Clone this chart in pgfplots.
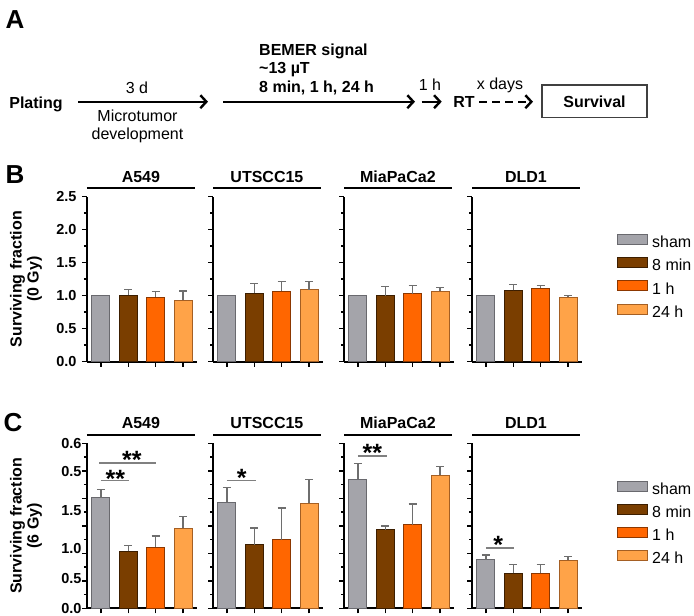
\documentclass[border=0pt]{standalone}
\usepackage{pgfplots}
\pgfplotsset{compat=1.18}
\usepackage{fontspec}
\setmainfont{Liberation Sans}
\usetikzlibrary{arrows.meta}

\definecolor{cSham}{RGB}{164,164,170}
\definecolor{eSham}{RGB}{105,105,110}
\definecolor{cMin}{RGB}{122,62,0}
\definecolor{eMin}{RGB}{60,30,0}
\definecolor{cOne}{RGB}{255,102,0}
\definecolor{eOne}{RGB}{140,55,0}
\definecolor{cDay}{RGB}{255,163,72}
\definecolor{eDay}{RGB}{165,95,35}
\definecolor{errgray}{RGB}{110,110,110}
\definecolor{siggray}{RGB}{128,128,128}

\tikzset{sig/.style={font=\bfseries\fontsize{25}{25}\selectfont, anchor=base, inner sep=0pt, yshift=-13pt}}

\pgfplotsset{
 panel/.style={scale only axis, width=110pt, height=165pt, anchor=south west,
   axis x line*=bottom, axis y line*=left,
   axis line style={line width=1.8pt},
   xmin=0.49, xmax=4.51, xtick={1,2,3,4}, xticklabels={},
   tick style={black, line width=1.5pt},
   tick align=outside, major tick length=5pt, minor tick length=3pt,
   clip=false, ymin=0,
   /pgf/number format/assume math mode=true,
   yticklabel style={font=\bfseries\fontsize{14.5}{14.5}\selectfont, xshift=-2pt},
 },
 panelB/.style={panel, ymax=2.5, ytick={0,0.5,1,1.5,2,2.5},
   yticklabels={0.0,0.5,1.0,1.5,2.0,2.5}, minor y tick num=1},
 panelC/.style={panel, ymax=0.6, ytick={0,0.1,0.2,0.3,0.4,0.5,0.6},
   yticklabels={,,,,,,}, minor y tick num=1,
   extra y ticks={0,0.107,0.219,0.355,0.496,0.6},
   extra y tick labels={0.0,0.5,1.0,1.5,0.5,0.6},
   extra y tick style={major tick length=0pt}},
 bstyle/.style={ybar, bar width=18pt, bar shift=0pt, line width=1pt},
 eb/.style={error bars/.cd, y dir=plus, y explicit,
   error bar style={line width=1.2pt, errgray},
   error mark options={rotate=90, line width=1.2pt, errgray, mark size=4pt}},
 pSham/.style={fill=cSham, draw=eSham},
 pMin/.style={fill=cMin, draw=eMin},
 pOne/.style={fill=cOne, draw=eOne},
 pDay/.style={fill=cDay, draw=eDay},
 leg/.style={legend style={at={(axis description cs:1.318,0.773)}, anchor=north west,
   draw=none, fill=none, inner sep=0pt, row sep=7pt, column sep=3pt,
   font=\fontsize{16}{16}\selectfont, cells={anchor=west},
   nodes={inner sep=1pt}},
   legend image code/.code={\draw[##1, line width=1pt] (0pt,-2pt) rectangle (30pt,8pt);}},
}

\newcommand{\ebar}[4]{\addplot[bstyle,#1,eb] coordinates {(#2,#3) +- (0,#4)};}
\newcommand{\head}[1]{%
  \draw[line width=1.6pt] (axis description cs:0,1.051) -- (axis description cs:0.985,1.051);
  \node[anchor=base, font=\bfseries\fontsize{16}{16}\selectfont, inner sep=0pt] at (axis description cs:0.49,1.087) {#1};}

\begin{document}
\begin{tikzpicture}
\useasboundingbox (0,0) rectangle (694pt,-616pt);

% ---------- Panel A ----------
\node[font=\bfseries\fontsize{26}{26}\selectfont] at (15pt,-20pt) {A};
\begin{scope}[line width=2.4pt, >={Straight Barb[length=6pt,width=13pt]}]
\node[anchor=base, inner sep=0pt, font=\bfseries\fontsize{16}{16}\selectfont] at (36pt,-108.3pt) {Plating};
\draw[->] (78pt,-101.7pt) -- (208pt,-101.7pt);
\node[anchor=base, inner sep=0pt, font=\fontsize{16}{16}\selectfont] at (137pt,-93.3pt) {3 d};
\node[anchor=base, inner sep=0pt, font=\fontsize{16}{16}\selectfont] at (137.5pt,-121.7pt) {Microtumor};
\node[anchor=base, inner sep=0pt, font=\fontsize{16}{16}\selectfont] at (137.5pt,-139.3pt) {development};
\draw[->] (223pt,-101.7pt) -- (415pt,-101.7pt);
\node[anchor=base west, inner sep=0pt, font=\bfseries\fontsize{16}{16}\selectfont] at (258pt,-55pt) {BEMER signal};
\node[anchor=base west, inner sep=0pt, font=\bfseries\fontsize{16}{16}\selectfont] at (258pt,-73.3pt) {\textasciitilde13 µT};
\node[anchor=base west, inner sep=0pt, font=\bfseries\fontsize{16}{16}\selectfont] at (258pt,-92.7pt) {8 min, 1 h, 24 h};
\draw[->] (421.7pt,-101.7pt) -- (441.7pt,-101.7pt);
\node[anchor=base, inner sep=0pt, font=\fontsize{16}{16}\selectfont] at (430pt,-90pt) {1 h};
\node[anchor=base, inner sep=0pt, font=\bfseries\fontsize{16}{16}\selectfont] at (464pt,-107.7pt) {RT};
\draw[->, dash pattern=on 8pt off 5pt] (479pt,-101.7pt) -- (533pt,-101.7pt);
\node[anchor=base, inner sep=0pt, font=\fontsize{16}{16}\selectfont] at (500pt,-89.3pt) {x days};
\draw[line width=1.1pt, black!75] (542pt,-85pt) rectangle (647pt,-117.3pt);
\node[anchor=base, inner sep=0pt, font=\bfseries\fontsize{16}{16}\selectfont] at (594.5pt,-107.5pt) {Survival};
\end{scope}

% ---------- Panel B ----------
\node[font=\bfseries\fontsize{26}{26}\selectfont] at (15pt,-175pt) {B};

\begin{axis}[panelB, at={(87pt,-361.7pt)}]
\addplot[bstyle,pSham] coordinates {(1,1.00)};
\ebar{pMin}{2}{1.01}{0.08}
\ebar{pOne}{3}{0.98}{0.08}
\ebar{pDay}{4}{0.93}{0.14}
\head{A549}
\node[rotate=90, align=center, font=\bfseries\fontsize{16}{17}\selectfont] at (axis description cs:-0.555,0.5) {Surviving fraction\\(0 Gy)};
\end{axis}

\begin{axis}[panelB, at={(213pt,-361.7pt)}, yticklabels={,,,,,}]
\addplot[bstyle,pSham] coordinates {(1,1.00)};
\ebar{pMin}{2}{1.04}{0.15}
\ebar{pOne}{3}{1.07}{0.14}
\ebar{pDay}{4}{1.09}{0.12}
\head{UTSCC15}
\end{axis}

\begin{axis}[panelB, at={(344pt,-361.7pt)}, yticklabels={,,,,,}]
\addplot[bstyle,pSham] coordinates {(1,1.01)};
\ebar{pMin}{2}{1.00}{0.14}
\ebar{pOne}{3}{1.03}{0.13}
\ebar{pDay}{4}{1.07}{0.06}
\head{MiaPaCa2}
\end{axis}

\begin{axis}[panelB, leg, at={(472pt,-361.7pt)}, yticklabels={,,,,,}]
\addplot[bstyle,pSham] coordinates {(1,1.01)};
\ebar{pMin}{2}{1.08}{0.09}
\ebar{pOne}{3}{1.11}{0.05}
\ebar{pDay}{4}{0.98}{0.02}
\head{DLD1}
\legend{sham,8 min,1 h,24 h}
\end{axis}

% ---------- Panel C ----------
\node[font=\bfseries\fontsize{26}{26}\selectfont] at (13pt,-423pt) {C};

\begin{axis}[panelC, at={(87pt,-608.3pt)}]
\ebar{pSham}{1}{0.402}{0.031}
\ebar{pMin}{2}{0.207}{0.021}
\ebar{pOne}{3}{0.222}{0.041}
\ebar{pDay}{4}{0.292}{0.043}
\head{A549}
\node[rotate=90, align=center, font=\bfseries\fontsize{16}{17}\selectfont] at (axis description cs:-0.555,0.5) {Surviving fraction\\(6 Gy)};
\draw[siggray, line width=1.5pt] (axis cs:0.93,0.529) -- (axis cs:3.0,0.529);
\draw[siggray, line width=1.5pt] (axis cs:1.0,0.464) -- (axis cs:2.02,0.464);
\node[sig] at (axis cs:2.13,0.554) {**};
\node[sig] at (axis cs:1.53,0.487) {**};
\end{axis}

\begin{axis}[panelC, at={(213pt,-608.3pt)}, extra y tick labels={}]
\ebar{pSham}{1}{0.386}{0.052}
\ebar{pMin}{2}{0.232}{0.060}
\ebar{pOne}{3}{0.250}{0.115}
\ebar{pDay}{4}{0.382}{0.087}
\head{UTSCC15}
\draw[siggray, line width=1.5pt] (axis cs:1.0,0.464) -- (axis cs:2.05,0.464);
\node[sig] at (axis cs:1.54,0.49) {*};
\end{axis}

\begin{axis}[panelC, at={(344pt,-608.3pt)}, extra y tick labels={}]
\ebar{pSham}{1}{0.469}{0.058}
\ebar{pMin}{2}{0.285}{0.014}
\ebar{pOne}{3}{0.304}{0.075}
\ebar{pDay}{4}{0.484}{0.031}
\head{MiaPaCa2}
\draw[siggray, line width=1.5pt] (axis cs:1.0,0.554) -- (axis cs:2.05,0.554);
\node[sig] at (axis cs:1.53,0.58) {**};
\end{axis}

\begin{axis}[panelC, leg, at={(472pt,-608.3pt)}, extra y tick labels={}]
\ebar{pSham}{1}{0.176}{0.018}
\ebar{pMin}{2}{0.127}{0.033}
\ebar{pOne}{3}{0.127}{0.033}
\ebar{pDay}{4}{0.175}{0.014}
\head{DLD1}
\draw[siggray, line width=1.5pt] (axis cs:1.0,0.22) -- (axis cs:2.02,0.22);
\node[sig] at (axis cs:1.45,0.248) {*};
\legend{sham,8 min,1 h,24 h}
\end{axis}

\end{tikzpicture}
\end{document}
